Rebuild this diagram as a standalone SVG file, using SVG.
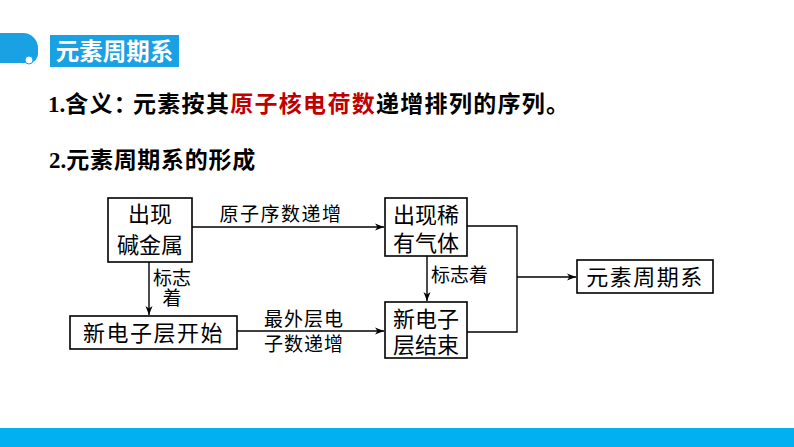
<svg xmlns="http://www.w3.org/2000/svg" width="794" height="447" viewBox="0 0 794 447">
<style>
.box{fill:#fff;stroke:#000;stroke-width:1.6}
.ln{fill:none;stroke:#000;stroke-width:1.4}
.t{font-family:"Noto Sans CJK SC","Noto Sans",sans-serif;font-size:22px;fill:#000}
.lb{font-family:"Noto Sans CJK SC","Noto Sans",sans-serif;font-size:19px;fill:#000}
.h{font-family:"Liberation Serif","Noto Sans CJK SC",serif;font-weight:bold;font-size:23px;fill:#000}
.hc{font-family:"Noto Sans CJK SC",sans-serif;font-weight:bold}
</style>
<defs>
<marker id="ar" markerWidth="10" markerHeight="8" refX="9" refY="4" orient="auto" markerUnits="userSpaceOnUse">
<path d="M0,0.5 L9,4 L0,7.5 L2.5,4 Z" fill="#000"/>
</marker>
</defs>
<rect width="794" height="447" fill="#fff"/>
<g id="header">
<path d="M0,33 H23 A15,15 0 0 1 38,48 V54 A9,9 0 0 1 29,63 H0 Z" fill="#1aa1e3"/>
<circle cx="29" cy="60" r="4" fill="#fff" stroke="#1aa1e3" stroke-width="1"/>
<rect x="50" y="35" width="129" height="32" fill="#1aa1e3"/>
<text x="114.5" y="59.5" text-anchor="middle" font-family="Noto Sans CJK SC,sans-serif" font-weight="bold" font-size="23.5" fill="#fff">元素周期系</text>
</g>
<text class="h" x="48" y="112">1.<tspan class="hc" letter-spacing="1.3">含义：<tspan x="133">元素按其</tspan></tspan><tspan class="hc" fill="#c00000" letter-spacing="1.3">原子核电荷数</tspan><tspan class="hc" letter-spacing="1.3">递增排列的序列。</tspan></text>
<text class="h" x="49" y="168">2.<tspan class="hc" letter-spacing="0.7">元素周期系的形成</tspan></text>
<g id="connectors">
<line class="ln" x1="192" y1="227" x2="384" y2="227" marker-end="url(#ar)"/>
<line class="ln" x1="149" y1="262" x2="149" y2="315" marker-end="url(#ar)"/>
<line class="ln" x1="237" y1="331" x2="384" y2="331" marker-end="url(#ar)"/>
<line class="ln" x1="427" y1="256" x2="427" y2="301" marker-end="url(#ar)"/>
<polyline class="ln" points="467,226 517,226 517,332 467,332"/>
<line class="ln" x1="517" y1="277" x2="576" y2="277" marker-end="url(#ar)"/>
<text class="lb" x="281" y="221" text-anchor="middle" letter-spacing="1.5">原子序数递增</text>
<text class="lb" text-anchor="middle"><tspan x="172" y="285">标志</tspan><tspan x="172" y="305">着</tspan></text>
<text class="lb" text-anchor="middle" letter-spacing="1"><tspan x="304" y="326">最外层电</tspan><tspan x="304" y="351">子数递增</tspan></text>
<text class="lb" x="431" y="282">标志着</text>
</g>
<g id="nodeA">
<rect class="box" x="108" y="198" width="84" height="64"/>
<text class="t" text-anchor="middle"><tspan x="150" y="222">出现</tspan><tspan x="150" y="253">碱金属</tspan></text>
</g>
<g id="nodeB">
<rect class="box" x="385" y="198" width="82" height="58"/>
<text class="t" text-anchor="middle"><tspan x="426" y="223">出现稀</tspan><tspan x="426" y="251">有气体</tspan></text>
</g>
<g id="nodeC">
<rect class="box" x="70" y="316" width="167" height="33"/>
<text class="t" x="153.5" y="341" text-anchor="middle" letter-spacing="1.5">新电子层开始</text>
</g>
<g id="nodeD">
<rect class="box" x="385" y="302" width="82" height="56"/>
<text class="t" text-anchor="middle"><tspan x="426" y="327">新电子</tspan><tspan x="426" y="353">层结束</tspan></text>
</g>
<g id="nodeE">
<rect class="box" x="577" y="260" width="136" height="33"/>
<text class="t" x="645" y="285" text-anchor="middle" letter-spacing="1.5">元素周期系</text>
</g>
<rect x="0" y="428" width="794" height="19" fill="#00b0f0"/>
</svg>
